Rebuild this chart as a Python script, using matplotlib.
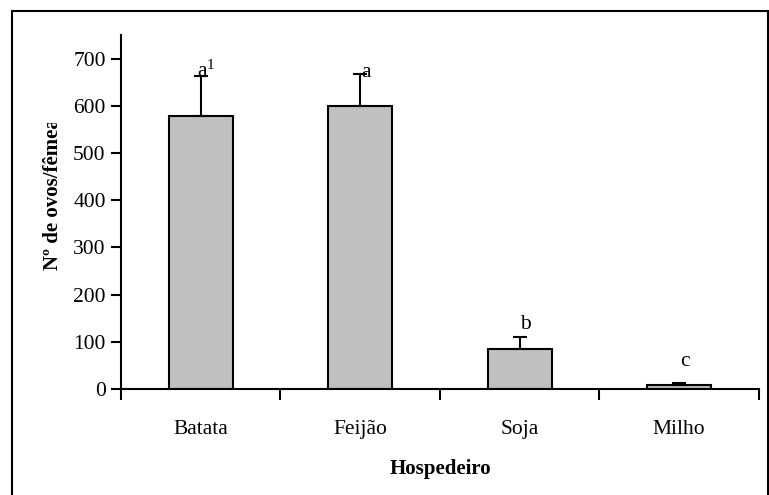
import matplotlib
matplotlib.use("Agg")
import matplotlib.pyplot as plt
from matplotlib.patches import Rectangle
from matplotlib.transforms import Bbox

plt.rcParams['font.family'] = ['Liberation Serif', 'DejaVu Serif']
plt.rcParams['mathtext.fontset'] = 'custom'
plt.rcParams['mathtext.rm'] = 'Liberation Serif'
plt.rcParams['mathtext.it'] = 'Liberation Serif:italic'

hosts = ["Batata", "Feijão", "Soja", "Milho"]
eggs = [578, 600, 85, 8]
err_up = [85, 68, 25, 5]
letters = ["a$^{\\rm 1}$", "a", "b", "c"]
letter_y = [650, 650, 116, 38]

fig = plt.figure(figsize=(7.69, 4.95), dpi=100)
ax = fig.add_axes([0.1573, 0.2141, 0.8297, 0.7152])

x = list(range(len(hosts)))
ax.bar(x, eggs, width=0.4, color="#C0C0C0", edgecolor="black", linewidth=1.5,
       yerr=[[0] * len(err_up), err_up], capsize=5,
       error_kw=dict(elinewidth=1.5, capthick=1.5, ecolor="black"), zorder=2)

for xi, lab, ly in zip(x, letters, letter_y):
    ax.text(xi + 0.035, ly, lab, ha="center", va="bottom", fontsize=15.5)

ax.set_xlim(-0.5, 3.5)
ax.set_ylim(0, 750)
ax.set_yticks(range(0, 701, 100))
ax.set_xticks([-0.5, 0.5, 1.5, 2.5, 3.5])
ax.set_xticklabels([])
ax.set_xticks(x, minor=True)
ax.set_xticklabels(hosts, minor=True)
ax.tick_params(axis="x", which="minor", length=0, pad=22, labelsize=15.5)
ax.tick_params(axis="x", which="major", length=8, width=1.5, direction="out")
ax.tick_params(axis="y", length=7, width=1.5, direction="out", labelsize=15.5, pad=4)

for s in ["top", "right"]:
    ax.spines[s].set_visible(False)
for s in ["left", "bottom"]:
    ax.spines[s].set_linewidth(1.5)

ax.set_xlabel("Hospedeiro", fontsize=15, fontweight="bold", labelpad=15)
yl = fig.text(0.069, (495 - 270) / 495, "Nº de ovos/fêmea", rotation=90,
              ha="center", va="bottom", fontsize=15, fontweight="bold")
yl.set_clip_on(True)
yl.set_clip_box(Bbox.from_extents(0, 0, 769, 495 - 123))

fig.patches.append(Rectangle((11.5 / 769, -0.1), (767.5 - 11.5) / 769, 1.1 - 10.5 / 495,
                             transform=fig.transFigure, fill=False,
                             edgecolor="black", linewidth=1.5))

fig.savefig("out.png", dpi=100)
